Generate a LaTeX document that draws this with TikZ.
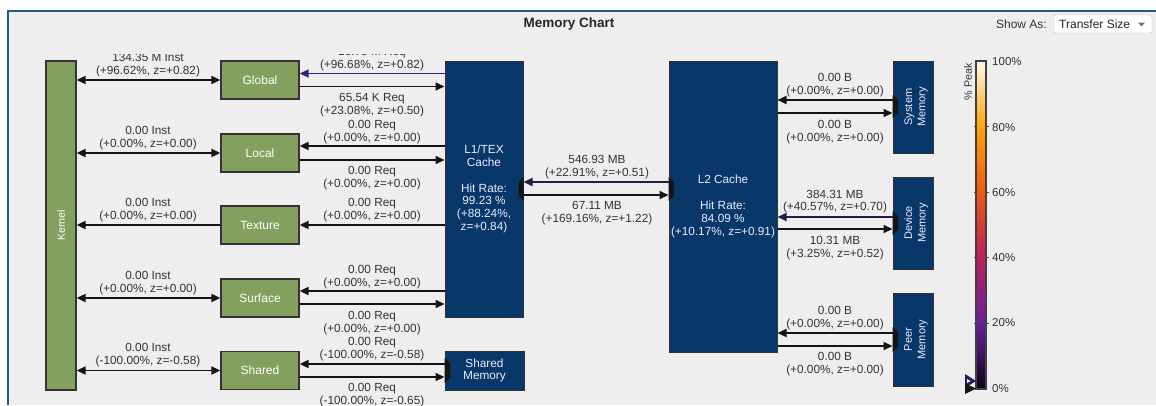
\documentclass[tikz,border=0pt]{standalone}
\usepackage{fontspec}
\setmainfont{Liberation Sans}
\usetikzlibrary{arrows.meta,calc}
\definecolor{bgc}{HTML}{EEEEEE}
\definecolor{framec}{HTML}{1D5C8A}
\definecolor{grn}{HTML}{83A05E}
\definecolor{navy}{HTML}{08376A}
\definecolor{txt}{HTML}{333333}
\definecolor{purp}{HTML}{3A1D7D}
\definecolor{dpurp}{HTML}{2A1A48}
\definecolor{cbA}{HTML}{FFFBEA}
\definecolor{cbB}{HTML}{FFA30A}
\definecolor{cbC}{HTML}{EE5A12}
\definecolor{cbD}{HTML}{BE1F5C}
\definecolor{cbE}{HTML}{6A1FA0}
\definecolor{cbF}{HTML}{0C0418}
\newcommand\lblfont{\fontsize{11.8}{12.8}\selectfont}
\tikzset{
  greenbox/.style={draw=black!80, line width=1.3pt, fill=grn, text=white,
    font=\fontsize{12}{13}\selectfont, minimum width=78pt, minimum height=38pt, inner sep=0pt},
  navybox/.style={draw=black!80, line width=1pt, fill=navy, text=white!92!blue,
    font=\lblfont, inner sep=0pt, align=center},
  rottext/.style={rotate=90, align=center, text=white!92!blue, font=\fontsize{11}{13.4}\selectfont, inner sep=0pt},
  lbl/.style={text=txt, font=\lblfont, align=center, inner sep=0pt},
  conn/.style={line width=1.9pt, draw=black!92},
  port/.style={fill=black!92},
  cbtick/.style={draw=black!70, line width=1pt},
  cblbl/.style={anchor=west, text=txt, font=\fontsize{11.5}{13}\selectfont, inner sep=0pt}
}
\begin{document}
\begin{tikzpicture}[x=1pt,y=-1pt,>={Triangle[length=9pt,width=8pt]}]
\useasboundingbox (0,0) rectangle (1156,405);
\fill[white] (0,0) rectangle (1156,405);
\fill[bgc] (8,11) rectangle (1156,405);
\draw[framec, line width=1.6pt] (8,405) -- (8,11) -- (1156,11);

% header
\node[font=\bfseries\fontsize{13.5}{15}\selectfont, text=black!85] (title) at (569,24) {Memory Chart};
\node[anchor=east, font=\fontsize{12}{13}\selectfont, text=txt, inner sep=0pt] (showas) at (1047,24) {Show As:};
\node[draw=black!25, fill=white, rounded corners=2pt, minimum width=98pt, minimum height=18pt, inner sep=0pt] (dd) at (1103,24) {};
\node[anchor=west, font=\fontsize{12}{13}\selectfont, text=black!85, inner sep=0pt] (ddtext) at (1059,24) {Transfer Size};
\fill[black!55] (1138,22.5) -- (1145,22.5) -- (1141.5,26.5) -- cycle;

% boxes
\node[greenbox, minimum width=30pt, minimum height=329pt] (kernel) at (61,225.5) {};
\node[rotate=90, text=white, font=\fontsize{10.5}{12}\selectfont, inner sep=0pt] (kerneltxt) at (61,225.5) {Kernel};
\node[greenbox] (global) at (260,80) {Global};
\node[greenbox] (local) at (260,153) {Local};
\node[greenbox] (texture) at (260,225) {Texture};
\node[greenbox] (surface) at (260,298) {Surface};
\node[greenbox] (shared) at (260,370.5) {Shared};

\node[navybox, minimum width=78pt, minimum height=256pt] (l1) at (484,189)
  {L1/TEX\\Cache\\[12.8pt]Hit Rate:\\99.23 \%\\(+88.24\%,\\z=+0.84)};
\node[navybox, minimum width=79pt, minimum height=39pt] (smem) at (484.5,370.5) {Shared\\Memory};
\node[navybox, minimum width=108pt, minimum height=291pt] (l2) at (723,206.5)
  {L2 Cache\\[12.8pt]Hit Rate:\\84.09 \%\\(+10.17\%, z=+0.91)};
\node[navybox, minimum width=40pt, minimum height=92pt] (sys) at (913,107) {};
\node[navybox, minimum width=40pt, minimum height=92pt] (dev) at (913,223) {};
\node[navybox, minimum width=40pt, minimum height=93pt] (peer) at (913,339.5) {};
\node[rottext] (systxt) at (916,107) {System\\Memory};
\node[rottext] (devtxt) at (916,223) {Device\\Memory};
\node[rottext] (peertxt) at (916,339.5) {Peer\\Memory};

% port markers
\fill[port] (523.5,177) -- (518.5,182) -- (518.5,196) -- (523.5,201) -- cycle;
\fill[port] (668.5,177) -- (673.5,182) -- (673.5,196) -- (668.5,201) -- cycle;
\fill[port] (892.5,95) -- (898,100) -- (898,113) -- (892.5,118) -- cycle;
\fill[port] (892.5,211) -- (898,216) -- (898,230) -- (892.5,235) -- cycle;
\fill[port] (892.5,327) -- (898,332) -- (898,347) -- (892.5,352) -- cycle;
\fill[port] (444.5,358) -- (450,363) -- (450,378) -- (444.5,383) -- cycle;

% kernel connectors
\draw[conn,<->] (kernel.east |- global.west) -- (global.west);
\draw[conn,<->] (kernel.east |- local.west) -- (local.west);
\draw[conn,<-] (kernel.east |- texture.west) -- (texture.west);
\draw[conn,<->] (kernel.east |- surface.west) -- (surface.west);
\draw[conn,<->] (kernel.east |- shared.west) -- (shared.west);

% L1 connectors
\draw[conn,draw=purp,->] ([yshift=6.5pt]l1.west |- global.east) -- ([yshift=6.5pt]global.east);
\draw[conn,->] ([yshift=-6.5pt]global.east) -- ([yshift=-6.5pt]l1.west |- global.east);
\draw[conn,->] ([yshift=7pt]l1.west |- local.east) -- ([yshift=7pt]local.east);
\draw[conn,->] ([yshift=-7pt]local.east) -- ([yshift=-7pt]l1.west |- local.east);
\draw[conn,->] (l1.west |- texture.east) -- (texture.east);
\draw[conn,->] ([yshift=7pt]l1.west |- surface.east) -- ([yshift=7pt]surface.east);
\draw[conn,->] ([yshift=-6pt]surface.east) -- ([yshift=-6pt]l1.west |- surface.east);
\draw[conn,->] ([yshift=6.5pt]smem.west) -- ([yshift=6.5pt]shared.east);
\draw[conn,->] ([yshift=-6.5pt]shared.east) -- ([yshift=-6.5pt]smem.west);

% L1 - L2
\draw[conn,draw=dpurp,->] ([yshift=7pt]l2.west |- l1.east) -- ([yshift=7pt]l1.east);
\draw[conn,->] ([yshift=-6pt]l1.east) -- ([yshift=-6pt]l2.west |- l1.east);

% L2 - memories
\draw[conn,->] ([yshift=7pt]sys.west) -- ([yshift=7pt]l2.east |- sys.west);
\draw[conn,->] ([yshift=-6pt]l2.east |- sys.west) -- ([yshift=-6pt]sys.west);
\draw[conn,draw=dpurp,->] ([yshift=6pt]dev.west) -- ([yshift=6pt]l2.east |- dev.west);
\draw[conn,->] ([yshift=-6pt]l2.east |- dev.west) -- ([yshift=-6pt]dev.west);
\draw[conn,->] ([yshift=6.5pt]peer.west) -- ([yshift=6.5pt]l2.east |- peer.west);
\draw[conn,->] ([yshift=-6.5pt]l2.east |- peer.west) -- ([yshift=-6.5pt]peer.west);

% labels
\begin{scope}
\clip (0,54.5) rectangle (1156,405);
\node[lbl] (k1) at (148,64.8) {134.35 M Inst\\(+96.62\%, z=+0.82)};
\node[lbl] (k2) at (148,137.8) {0.00 Inst\\(+0.00\%, z=+0.00)};
\node[lbl] (k3) at (148,210.3) {0.00 Inst\\(+0.00\%, z=+0.00)};
\node[lbl] (k4) at (148,282.8) {0.00 Inst\\(+0.00\%, z=+0.00)};
\node[lbl] (k5) at (148,354.8) {0.00 Inst\\(-100.00\%, z=-0.58)};

\node[lbl] (a1) at (372,59.3) {16.78 M Req\\(+96.68\%, z=+0.82)};
\node[lbl] (a2) at (372,105.3) {65.54 K Req\\(+23.08\%, z=+0.50)};
\node[lbl] (a3) at (372,131.8) {0.00 Req\\(+0.00\%, z=+0.00)};
\node[lbl] (a4) at (372,177.8) {0.00 Req\\(+0.00\%, z=+0.00)};
\node[lbl] (a5) at (372,210.3) {0.00 Req\\(+0.00\%, z=+0.00)};
\node[lbl] (a6) at (372,276.8) {0.00 Req\\(+0.00\%, z=+0.00)};
\node[lbl] (a7) at (372,322.8) {0.00 Req\\(+0.00\%, z=+0.00)};
\node[lbl] (a8) at (372,348.8) {0.00 Req\\(-100.00\%, z=-0.58)};
\node[lbl] (a9) at (372,394.8) {0.00 Req\\(-100.00\%, z=-0.65)};

\node[lbl] (m1) at (597,167.3) {546.93 MB\\(+22.91\%, z=+0.51)};
\node[lbl] (m2) at (597,212.8) {67.11 MB\\(+169.16\%, z=+1.22)};

\node[lbl] (r1) at (835,85.3) {0.00 B\\(+0.00\%, z=+0.00)};
\node[lbl] (r2) at (835,131.8) {0.00 B\\(+0.00\%, z=+0.00)};
\node[lbl] (r3) at (835,201.5) {384.31 MB\\(+40.57\%, z=+0.70)};
\node[lbl] (r4) at (835,247.8) {10.31 MB\\(+3.25\%, z=+0.52)};
\node[lbl] (r5) at (835,317.8) {0.00 B\\(+0.00\%, z=+0.00)};
\node[lbl] (r6) at (835,363.8) {0.00 B\\(+0.00\%, z=+0.00)};
\end{scope}

% colour bar
\shade[top color=cbA, bottom color=cbB] (976,61) rectangle (986,126.6);
\shade[top color=cbB, bottom color=cbC] (976,126.6) rectangle (986,192.2);
\shade[top color=cbC, bottom color=cbD] (976,192.2) rectangle (986,257.8);
\shade[top color=cbD, bottom color=cbE] (976,257.8) rectangle (986,323.4);
\shade[top color=cbE, bottom color=cbF] (976,323.4) rectangle (986,389);
\draw[black!75, line width=1.5pt] (976,61) rectangle (986,389);
\foreach \yy in {126.6,192.2,257.8,323.4} {
  \draw[cbtick] (973.5,\yy) -- (976.5,\yy);
  \draw[cbtick] (985.5,\yy) -- (988.5,\yy);
}
\node[cblbl] (c100) at (992,62) {100\%};
\node[cblbl] (c80) at (992,128) {80\%};
\node[cblbl] (c60) at (992,193) {60\%};
\node[cblbl] (c40) at (992,258) {40\%};
\node[cblbl] (c20) at (992,323) {20\%};
\node[cblbl] (c0) at (992,389) {0\%};
\node[rotate=90, text=txt, font=\fontsize{10.7}{12}\selectfont, inner sep=0pt] (peak) at (968,82) {\% Peak};
\fill[purp!80!black] (965,374) -- (976,381) -- (965,388) -- cycle;
\fill[white] (967,379) -- (970.5,381) -- (967,383) -- cycle;
\fill[black!92] (965,383.5) -- (976,388.5) -- (965,394) -- cycle;
\end{tikzpicture}
\end{document}
